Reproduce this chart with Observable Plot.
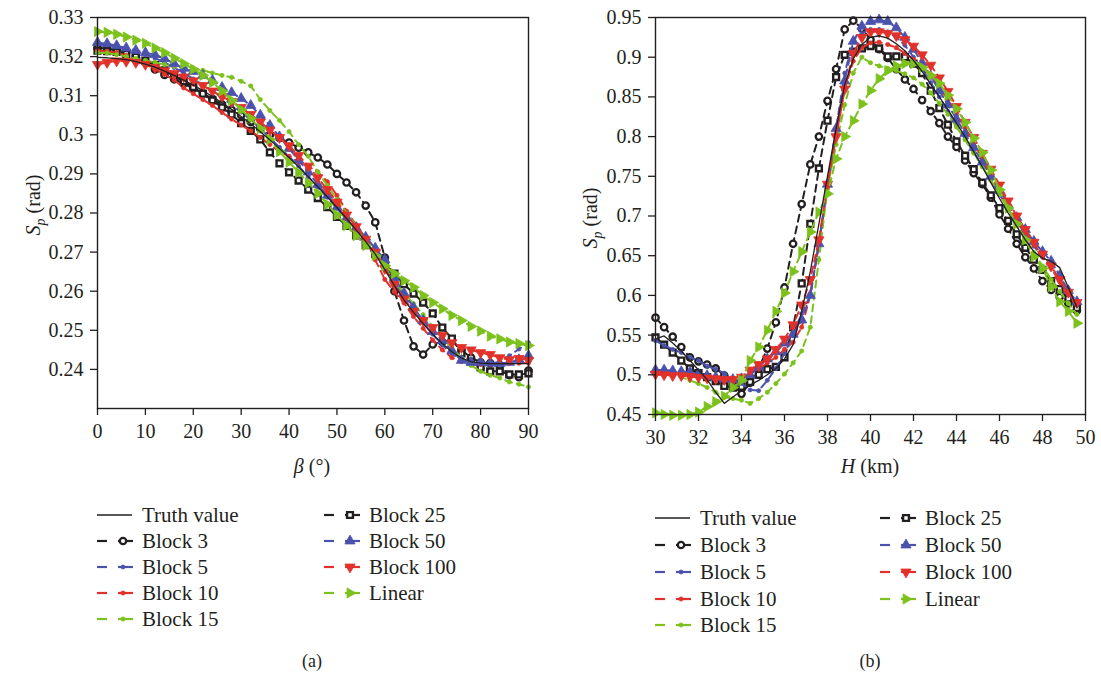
<!DOCTYPE html>
<html><head><meta charset="utf-8">
<script src="https://cdn.jsdelivr.net/npm/d3@7"></script>
<script src="https://cdn.jsdelivr.net/npm/@observablehq/plot@0.6"></script>
<style>
body{margin:0;background:#fff;}
#wrap{position:relative;width:1101px;height:675px;font-family:"Liberation Serif",serif;}
#wrap > svg{position:absolute;}
</style></head><body><div id="wrap"></div>
<script>
// ---------- Panel (a): S_p vs beta ----------
const betaDeg = [0,2,4,6,8,10,12,14,16,18,20,22,24,26,28,30,32,34,36,38,40,42,44,46,48,50,52,54,56,58,60,62,64,66,68,70,72,74,76,78,80,82,84,86,88,90];
const aTruth = [0.3198,0.3197,0.3195,0.3192,0.3187,0.3181,0.3173,0.3163,0.3152,0.3140,0.3127,0.3113,0.3098,0.3082,0.3065,0.3047,0.3028,0.3008,0.2987,0.2965,0.2942,0.2918,0.2893,0.2867,0.2841,0.2814,0.2786,0.2757,0.2727,0.2695,0.2655,0.2614,0.2578,0.2546,0.2517,0.2490,0.2466,0.2445,0.2429,0.2420,0.2416,0.2415,0.2415,0.2415,0.2415,0.2415];
const aBlock3 = [0.3222,0.3221,0.3218,0.3212,0.3200,0.3186,0.3167,0.3153,0.3142,0.3131,0.3118,0.3106,0.3092,0.3078,0.3064,0.3050,0.3033,0.3015,0.3000,0.2992,0.2980,0.2967,0.2955,0.2942,0.2924,0.2900,0.2878,0.2853,0.2819,0.2776,0.2686,0.2600,0.2525,0.2459,0.2438,0.2464,0.2470,0.2475,0.2450,0.2430,0.2418,0.2416,0.2410,0.2385,0.2380,0.2397];
const aBlock5 = [0.3232,0.3230,0.3226,0.3220,0.3213,0.3205,0.3196,0.3185,0.3172,0.3158,0.3143,0.3128,0.3112,0.3095,0.3077,0.3058,0.3038,0.3016,0.2993,0.2968,0.2944,0.2920,0.2893,0.2866,0.2840,0.2812,0.2784,0.2755,0.2725,0.2697,0.2665,0.2625,0.2588,0.2553,0.2520,0.2490,0.2462,0.2440,0.2424,0.2416,0.2413,0.2414,0.2420,0.2435,0.2452,0.2468];
const aBlock10 = [0.3215,0.3213,0.3210,0.3203,0.3193,0.3180,0.3168,0.3155,0.3140,0.3120,0.3105,0.3090,0.3075,0.3057,0.3040,0.3025,0.3010,0.2993,0.2975,0.2957,0.2945,0.2930,0.2920,0.2905,0.2880,0.2845,0.2805,0.2770,0.2735,0.2680,0.2630,0.2598,0.2570,0.2535,0.2505,0.2475,0.2450,0.2430,0.2420,0.2415,0.2413,0.2413,0.2414,0.2415,0.2416,0.2417];
const aBlock15 = [0.3210,0.3209,0.3205,0.3200,0.3195,0.3190,0.3185,0.3180,0.3175,0.3172,0.3169,0.3165,0.3158,0.3152,0.3147,0.3137,0.3125,0.3090,0.3062,0.3037,0.3008,0.2975,0.2945,0.2905,0.2870,0.2835,0.2800,0.2768,0.2735,0.2700,0.2660,0.2625,0.2595,0.2568,0.2540,0.2510,0.2480,0.2455,0.2430,0.2410,0.2395,0.2385,0.2378,0.2368,0.2362,0.2355];
const aBlock25 = [0.3215,0.3214,0.3212,0.3207,0.3200,0.3190,0.3178,0.3165,0.3150,0.3137,0.3122,0.3105,0.3088,0.3070,0.3052,0.3030,0.3010,0.2988,0.2955,0.2927,0.2904,0.2883,0.2860,0.2838,0.2815,0.2790,0.2767,0.2743,0.2718,0.2695,0.2670,0.2645,0.2618,0.2594,0.2571,0.2543,0.2507,0.2479,0.2441,0.2420,0.2405,0.2395,0.2395,0.2387,0.2387,0.2390];
const aBlock50 = [0.3236,0.3233,0.3228,0.3222,0.3216,0.3210,0.3205,0.3195,0.3182,0.3170,0.3162,0.3152,0.3139,0.3121,0.3108,0.3093,0.3075,0.3050,0.3024,0.2995,0.2965,0.2935,0.2905,0.2873,0.2845,0.2815,0.2788,0.2763,0.2738,0.2710,0.2680,0.2635,0.2595,0.2558,0.2525,0.2497,0.2474,0.2448,0.2423,0.2418,0.2418,0.2416,0.2415,0.2418,0.2425,0.2435];
const aBlock100 = [0.3180,0.3185,0.3189,0.3188,0.3185,0.3180,0.3172,0.3164,0.3157,0.3148,0.3138,0.3126,0.3112,0.3098,0.3085,0.3070,0.3052,0.3033,0.3012,0.2993,0.2972,0.2947,0.2920,0.2890,0.2860,0.2828,0.2795,0.2765,0.2733,0.2700,0.2658,0.2617,0.2580,0.2548,0.2525,0.2507,0.2487,0.2468,0.2456,0.2450,0.2443,0.2438,0.2430,0.2425,0.2428,0.2423];
const aLinear = [0.3264,0.3262,0.3257,0.3250,0.3242,0.3234,0.3222,0.3210,0.3196,0.3182,0.3168,0.3152,0.3134,0.3112,0.3088,0.3064,0.3042,0.3016,0.2988,0.2957,0.2930,0.2904,0.2877,0.2850,0.2822,0.2795,0.2768,0.2742,0.2717,0.2691,0.2665,0.2645,0.2627,0.2610,0.2589,0.2571,0.2555,0.2538,0.2525,0.2510,0.2498,0.2485,0.2478,0.2470,0.2466,0.2461];
const aXTicks = [0,10,20,30,40,50,60,70,80,90];
const aYTicks = [0.24,0.25,0.26,0.27,0.28,0.29,0.3,0.31,0.32,0.33];

// ---------- Panel (b): S_p vs H ----------
const hKm = [30.0,30.4,30.8,31.2,31.6,32.0,32.4,32.8,33.2,33.6,34.0,34.4,34.8,35.2,35.6,36.0,36.4,36.8,37.2,37.6,38.0,38.4,38.8,39.2,39.6,40.0,40.4,40.8,41.2,41.6,42.0,42.4,42.8,43.2,43.6,44.0,44.4,44.8,45.2,45.6,46.0,46.4,46.8,47.2,47.6,48.0,48.4,48.8,49.2,49.6];
const bTruth = [0.545,0.549,0.540,0.530,0.518,0.506,0.494,0.478,0.464,0.472,0.480,0.487,0.493,0.500,0.508,0.520,0.538,0.580,0.630,0.690,0.750,0.810,0.865,0.898,0.916,0.925,0.927,0.924,0.917,0.908,0.896,0.882,0.866,0.850,0.834,0.817,0.800,0.781,0.762,0.742,0.722,0.704,0.687,0.670,0.655,0.647,0.643,0.635,0.610,0.585];
const bBlock3 = [0.572,0.560,0.548,0.535,0.522,0.517,0.513,0.508,0.499,0.488,0.476,0.490,0.508,0.533,0.566,0.610,0.665,0.715,0.765,0.800,0.845,0.885,0.935,0.946,0.936,0.922,0.910,0.899,0.885,0.872,0.860,0.846,0.832,0.817,0.800,0.787,0.770,0.754,0.740,0.723,0.702,0.684,0.665,0.648,0.634,0.618,0.607,0.598,0.590,0.581];
const bBlock5 = [0.543,0.537,0.532,0.528,0.522,0.518,0.511,0.507,0.502,0.496,0.489,0.481,0.480,0.493,0.508,0.527,0.549,0.577,0.600,0.665,0.740,0.810,0.880,0.922,0.930,0.935,0.935,0.932,0.925,0.915,0.900,0.885,0.868,0.850,0.832,0.814,0.797,0.780,0.763,0.745,0.727,0.710,0.693,0.677,0.662,0.648,0.635,0.618,0.602,0.588];
const bBlock10 = [0.500,0.500,0.499,0.499,0.498,0.498,0.497,0.496,0.495,0.495,0.497,0.503,0.507,0.515,0.522,0.532,0.541,0.560,0.600,0.665,0.735,0.800,0.860,0.895,0.912,0.918,0.919,0.916,0.912,0.905,0.897,0.888,0.876,0.862,0.846,0.829,0.811,0.793,0.774,0.755,0.735,0.716,0.698,0.681,0.665,0.650,0.634,0.618,0.603,0.590];
const bBlock15 = [0.503,0.501,0.499,0.497,0.493,0.489,0.484,0.478,0.472,0.470,0.468,0.464,0.470,0.478,0.489,0.501,0.515,0.530,0.560,0.645,0.735,0.790,0.840,0.880,0.900,0.893,0.889,0.886,0.883,0.879,0.874,0.866,0.855,0.842,0.828,0.812,0.796,0.779,0.762,0.745,0.727,0.709,0.690,0.672,0.654,0.637,0.620,0.605,0.590,0.576];
const bBlock25 = [0.547,0.538,0.528,0.518,0.508,0.502,0.497,0.492,0.486,0.484,0.485,0.491,0.500,0.507,0.510,0.522,0.560,0.615,0.690,0.760,0.820,0.875,0.903,0.907,0.911,0.914,0.911,0.901,0.901,0.900,0.892,0.880,0.858,0.836,0.815,0.794,0.776,0.759,0.742,0.726,0.710,0.694,0.677,0.660,0.645,0.632,0.618,0.608,0.596,0.584];
const bBlock50 = [0.506,0.506,0.505,0.504,0.503,0.501,0.499,0.497,0.495,0.494,0.495,0.500,0.510,0.520,0.529,0.540,0.551,0.569,0.600,0.665,0.740,0.810,0.870,0.920,0.939,0.945,0.947,0.945,0.937,0.925,0.910,0.893,0.876,0.858,0.840,0.822,0.804,0.786,0.768,0.750,0.732,0.714,0.698,0.683,0.668,0.655,0.643,0.625,0.606,0.592];
const bBlock100 = [0.501,0.500,0.499,0.499,0.498,0.497,0.496,0.495,0.494,0.494,0.497,0.506,0.513,0.520,0.532,0.545,0.563,0.588,0.620,0.670,0.740,0.800,0.860,0.905,0.925,0.932,0.932,0.930,0.927,0.922,0.914,0.903,0.890,0.874,0.857,0.838,0.818,0.799,0.779,0.759,0.739,0.719,0.700,0.683,0.667,0.652,0.637,0.620,0.604,0.591];
const bLinear = [0.452,0.450,0.449,0.449,0.450,0.453,0.460,0.466,0.473,0.484,0.493,0.518,0.535,0.556,0.580,0.603,0.630,0.655,0.680,0.705,0.728,0.772,0.800,0.820,0.841,0.858,0.873,0.883,0.889,0.892,0.892,0.887,0.877,0.867,0.852,0.835,0.818,0.798,0.780,0.758,0.733,0.710,0.690,0.670,0.649,0.634,0.611,0.592,0.580,0.565];
const bXTicks = [30,32,34,36,38,40,42,44,46,48,50];
const bYTicks = [0.45,0.5,0.55,0.6,0.65,0.7,0.75,0.8,0.85,0.9,0.95];

const seriesNames = ["Truth value","Block 3","Block 5","Block 10","Block 15","Block 25","Block 50","Block 100","Linear"];

// ---------- styles ----------
const INK = "#231f20", BLUE = "#4b52ad", RED = "#e2312a", GREEN = "#7cc11c";
function triangle(dir){
  return {draw(ctx, size){
    const s = Math.sqrt(size * 4 / Math.sqrt(3)), h = s * Math.sqrt(3) / 2;
    if (dir === "up"){ctx.moveTo(-s/2,h/3);ctx.lineTo(s/2,h/3);ctx.lineTo(0,-2*h/3);}
    else if (dir === "down"){ctx.moveTo(-s/2,-h/3);ctx.lineTo(s/2,-h/3);ctx.lineTo(0,2*h/3);}
    else {ctx.moveTo(-h/3,-s/2);ctx.lineTo(-h/3,s/2);ctx.lineTo(2*h/3,0);}
    ctx.closePath();
  }};
}
const styles = {
  "Truth value": {color: INK, width: 1.3, dash: null, symbol: null},
  "Block 3":   {color: INK,   width: 2, dash: "7,5", symbol: d3.symbolCircle, r: 3.2, fill: "white", sw: 2.3},
  "Block 5":   {color: BLUE,  width: 2, dash: "7,5", symbol: d3.symbolCircle, r: 2.0, fill: BLUE, sw: 0.8},
  "Block 10":  {color: RED,   width: 2, dash: "7,5", symbol: d3.symbolCircle, r: 2.1, fill: RED, sw: 0.8},
  "Block 15":  {color: GREEN, width: 2, dash: "7,5", symbol: d3.symbolCircle, r: 2.1, fill: GREEN, sw: 0.8},
  "Block 25":  {color: INK,   width: 2, dash: "7,5", symbol: d3.symbolSquare, r: 3.3, fill: "white", sw: 2.4},
  "Block 50":  {color: BLUE,  width: 2, dash: "7,5", symbol: triangle("up"), r: 3.8, fill: BLUE, sw: 0.8},
  "Block 100": {color: RED,   width: 2, dash: "7,5", symbol: triangle("down"), r: 3.8, fill: RED, sw: 0.8},
  "Linear":    {color: GREEN, width: 2, dash: "7,5", symbol: triangle("right"), r: 3.8, fill: GREEN, sw: 0.8}
};
const drawOrder = ["Block 3","Block 25","Block 5","Block 10","Block 15","Block 50","Block 100","Linear","Truth value"];
const FONT = "'Liberation Serif', 'DejaVu Serif', serif";

function buildPanel(cfg){
  const marks = [];
  for (const name of drawOrder){
    const ys = cfg.series[name];
    const rows = cfg.xs.map((x, i) => ({x, y: ys[i]}));
    const st = styles[name];
    marks.push(Plot.line(rows, {x: "x", y: "y", stroke: st.color, strokeWidth: st.width, strokeDasharray: st.dash || undefined}));
    if (st.symbol) marks.push(Plot.dot(rows, {x: "x", y: "y", symbol: st.symbol, r: st.r, fill: st.fill, stroke: st.color, strokeWidth: st.sw}));
  }
  marks.push(Plot.frame({stroke: INK, strokeWidth: 1.4}));
  marks.push(Plot.axisX({ticks: cfg.xTicks, tickSize: 7, tickPadding: 8, tickFormat: d => String(d), label: null, stroke: INK, strokeWidth: 1.3, fill: INK}));
  marks.push(Plot.axisY({ticks: cfg.yTicks, tickSize: 7, tickPadding: 7, tickFormat: d => String(d), label: null, stroke: INK, strokeWidth: 1.3, fill: INK}));
  return Plot.plot({
    width: cfg.width, height: cfg.height,
    marginLeft: cfg.ml, marginRight: cfg.mr, marginTop: cfg.mt, marginBottom: cfg.mb,
    x: {domain: cfg.xDomain},
    y: {domain: cfg.yDomain},
    style: {fontFamily: FONT, fontSize: "20px", color: INK, background: "transparent", overflow: "visible"},
    marks
  });
}

function addTitles(svg, xTitle, yCx, yCy, xCx, xBase){
  const s = d3.select(svg);
  const yt = s.append("text").attr("transform", `translate(${yCx},${yCy}) rotate(-90)`)
    .attr("text-anchor", "middle").attr("fill", INK)
    .style("font-family", FONT).style("font-size", "20px");
  yt.append("tspan").attr("font-style", "italic").text("S");
  yt.append("tspan").attr("font-style", "italic").attr("dy", 5).style("font-size", "14px").text("p");
  yt.append("tspan").attr("dy", -5).text(" (rad)");
  const xt = s.append("text").attr("x", xCx).attr("y", xBase).attr("text-anchor", "middle").attr("fill", INK)
    .style("font-family", FONT).style("font-size", "20px");
  xt.append("tspan").attr("font-style", "italic").text(xTitle[0]);
  xt.append("tspan").text(xTitle[1]);
}

const wrap = document.getElementById("wrap");

const svgA = buildPanel({
  xs: betaDeg,
  series: {"Truth value": aTruth, "Block 3": aBlock3, "Block 5": aBlock5, "Block 10": aBlock10, "Block 15": aBlock15, "Block 25": aBlock25, "Block 50": aBlock50, "Block 100": aBlock100, "Linear": aLinear},
  xDomain: [0, 90], yDomain: [0.23, 0.33], xTicks: aXTicks, yTicks: aYTicks,
  width: 550, height: 480, ml: 97, mr: 22, mt: 17, mb: 72
});
svgA.style.left = "0px"; svgA.style.top = "0px";
addTitles(svgA, ["β", " (°)"], 40, 205, 312, 473);
wrap.appendChild(svgA);

const svgB = buildPanel({
  xs: hKm,
  series: {"Truth value": bTruth, "Block 3": bBlock3, "Block 5": bBlock5, "Block 10": bBlock10, "Block 15": bBlock15, "Block 25": bBlock25, "Block 50": bBlock50, "Block 100": bBlock100, "Linear": bLinear},
  xDomain: [30, 50], yDomain: [0.45, 0.95], xTicks: bXTicks, yTicks: bYTicks,
  width: 551, height: 480, ml: 105, mr: 16, mt: 17, mb: 66
});
svgB.style.left = "550px"; svgB.style.top = "0px";
addTitles(svgB, ["H", " (km)"], 47, 218, 320, 473);
wrap.appendChild(svgB);

// ---------- legends and captions ----------
const leg = d3.select(wrap).append("svg").attr("width", 1101).attr("height", 195)
  .style("left", "0px").style("top", "480px").style("position", "absolute");
function drawLegend(col1x, col2x, rowsY){
  const col1 = seriesNames.slice(0, 5), col2 = seriesNames.slice(5);
  const place = (names, sx) => names.forEach((name, i) => {
    const cy = rowsY[i] - 480, st = styles[name];
    const g = leg.append("g");
    if (!st.symbol){
      g.append("line").attr("x1", sx).attr("x2", sx + 35).attr("y1", cy).attr("y2", cy).attr("stroke", st.color).attr("stroke-width", 1.3);
    } else {
      g.append("line").attr("x1", sx).attr("x2", sx + 10).attr("y1", cy).attr("y2", cy).attr("stroke", st.color).attr("stroke-width", 2.2);
      g.append("line").attr("x1", sx + 21).attr("x2", sx + 36).attr("y1", cy).attr("y2", cy).attr("stroke", st.color).attr("stroke-width", 2.2);
      g.append("path").attr("transform", `translate(${sx + 26},${cy})`)
        .attr("d", d3.symbol().type(st.symbol).size(st.r * st.r * Math.PI)())
        .attr("fill", st.fill).attr("stroke", st.color).attr("stroke-width", st.sw);
    }
    g.append("text").attr("x", sx + 45).attr("y", cy + 7).attr("fill", INK)
      .style("font-family", FONT).style("font-size", "21px").text(name);
  });
  place(col1, col1x); place(col2, col2x);
}
drawLegend(97, 324, [515, 541, 567, 593, 619]);
drawLegend(655, 880, [518, 545, 572, 599, 625]);
leg.append("text").attr("x", 312).attr("y", 667 - 480).attr("text-anchor", "middle").attr("fill", INK)
  .style("font-family", FONT).style("font-size", "18px").text("(a)");
leg.append("text").attr("x", 870).attr("y", 667 - 480).attr("text-anchor", "middle").attr("fill", INK)
  .style("font-family", FONT).style("font-size", "18px").text("(b)");
</script></body></html>
